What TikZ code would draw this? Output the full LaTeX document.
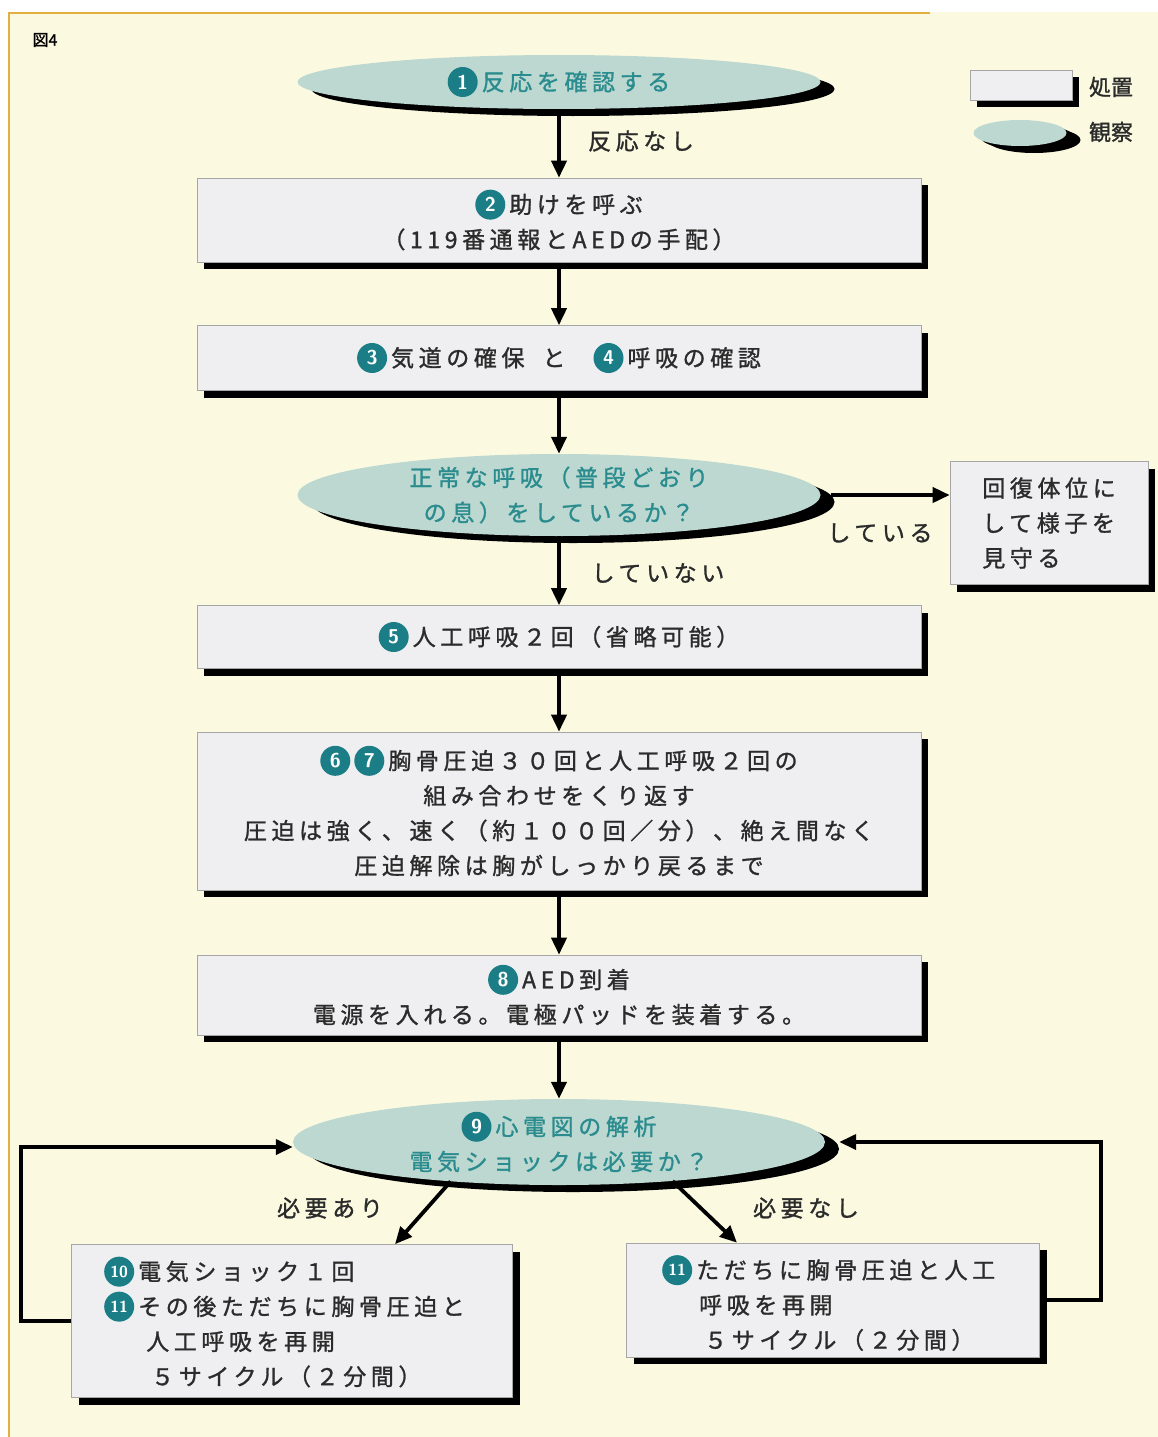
\documentclass[tikz,border=0pt]{standalone}
\usepackage{fontspec}
\usetikzlibrary{shapes.geometric,shadows,arrows.meta}
\newfontfamily\jp[LetterSpace=20,FakeBold=1.2]{Noto Sans CJK JP}
\newfontfamily\jpn[FakeBold=1.2]{Noto Sans CJK JP}
\definecolor{panel}{HTML}{FBFAE0}
\definecolor{frameor}{HTML}{E3B040}
\definecolor{ellfill}{HTML}{BDD8D0}
\definecolor{tealtext}{HTML}{2A8C8E}
\definecolor{numteal}{HTML}{1B7E86}
\definecolor{boxfill}{HTML}{EFEFF1}
\definecolor{txt}{HTML}{2B2B2B}
\newcommand\cnum[2][20]{\tikz[baseline=-8.5pt,x=1pt,y=1pt]\node[circle,fill=numteal,text=white,inner sep=0pt,minimum size=30pt,font=\sffamily\bfseries\fontsize{#1}{#1}\selectfont]{#2};\hspace{4pt}}
\tikzset{
  box/.style={draw=gray!70,line width=0.6pt,fill=boxfill,
    drop shadow={shadow xshift=7pt,shadow yshift=-7pt,fill=black,opacity=1},
    inner sep=0pt,text=txt,font=\fontsize{23}{35}\selectfont\jp,align=center},
  obs/.style={ellipse,fill=ellfill,
    drop shadow={shadow xshift=14pt,shadow yshift=-7pt,fill=black,opacity=1},
    inner sep=0pt,text=tealtext,font=\fontsize{23}{35}\selectfont\jp,align=center},
  flow/.style={line width=3.8pt,-{Triangle[length=17pt,width=15pt]}},
  lbl/.style={text=txt,font=\fontsize{23}{26}\selectfont\jp},
  btxt/.style={text=txt,font=\fontsize{23}{35}\selectfont\jp,align=left,inner sep=0pt}
}
\begin{document}
\begin{tikzpicture}[x=1pt,y=-1pt]
\useasboundingbox (0,0) rectangle (1158,1437);
\fill[white] (0,0) rectangle (1158,1437);
\fill[panel] (8,12) rectangle (1158,1437);
\draw[frameor,line width=2pt] (9,1437) -- (9,13) -- (930,13);
\node[text=black,font=\fontsize{16}{16}\selectfont\jpn] (fig) at (45,40) {図4};

% legend
\node[box,minimum width=102pt,minimum height=30pt] (lg1) at (1021,85) {};
\node[text=txt,font=\fontsize{22}{22}\selectfont\jpn] (lg1t) at (1111,87) {処置};
\node[obs,minimum width=93pt,minimum height=26pt,drop shadow={shadow xshift=7pt,shadow yshift=-4pt,fill=black,opacity=1}] (lg2) at (1020,133) {};
\node[text=txt,font=\fontsize{22}{22}\selectfont\jpn] (lg2t) at (1111,132) {観察};

% main nodes
\node[obs,minimum width=523pt,minimum height=54pt] (e1) at (559,82) {\cnum{1}反応を確認する};
\node[box,minimum width=724pt,minimum height=84pt] (b2) at (559,220) {\cnum{2}助けを呼ぶ\\（119番通報とAEDの手配）};
\node[box,minimum width=724pt,minimum height=65pt] (b3) at (559,358) {\cnum{3}気道の確保\hspace{18pt}と\hspace{28pt}\cnum{4}呼吸の確認};
\node[obs,minimum width=523pt,minimum height=82pt] (e4) at (559,495) {正常な呼吸（普段どおり\\の息）をしているか？};
\node[box,minimum width=198pt,minimum height=123pt,align=left] (rb) at (1049,523) {回復体位に\\して様子を\\見守る};
\node[box,minimum width=724pt,minimum height=63pt] (b5) at (559,637) {\cnum{5}人工呼吸２回（省略可能）};
\node[box,minimum width=724pt,minimum height=158pt] (b6) at (559,811) {\cnum{6}\cnum{7}胸骨圧迫３０回と人工呼吸２回の\\組み合わせをくり返す\\圧迫は強く、速く（約１００回／分）、絶え間なく\\圧迫解除は胸がしっかり戻るまで};
\node[box,minimum width=724pt,minimum height=80pt] (b8) at (559,995) {\cnum{8}AED到着\\電源を入れる。電極パッドを装着する。};
\node[obs,minimum width=532pt,minimum height=86pt] (e9) at (559,1142) {\cnum{9}心電図の解析\\電気ショックは必要か？};
\node[box,minimum width=441pt,minimum height=153pt] (b10) at (292,1321) {};
\node[btxt,anchor=west] (t10) at (104,1322) {\cnum[16]{10}電気ショック１回\\\cnum[16]{11}その後ただちに胸骨圧迫と\\\hspace*{42pt}人工呼吸を再開\\\hspace*{47pt}５サイクル（２分間）};
\node[box,minimum width=413pt,minimum height=114pt] (b11) at (833,1300) {};
\node[btxt,anchor=west] (t11) at (662,1303) {\cnum[16]{11}ただちに胸骨圧迫と人工\\\hspace*{37pt}呼吸を再開\\\hspace*{42pt}５サイクル（２分間）};

% connectors
\draw[flow] (e1.south) -- (b2.north);
\draw[flow] (b2.south) ++(0,7) -- (b3.north);
\draw[flow] (b3.south) ++(0,7) -- (e4.north);
\draw[flow] (e4.south) -- (b5.north);
\draw[flow] ([xshift=10pt]e4.east) -- (e4.east -| rb.west);
\draw[flow] (b5.south) ++(0,7) -- (b6.north);
\draw[flow] (b6.south) ++(0,7) -- (b8.north);
\draw[flow] (b8.south) ++(0,7) -- (e9.north);
\draw[flow] (e9.200) -- ([xshift=103pt]b10.north);
\draw[flow] (e9.341) -- ([xshift=-96pt]b11.north);
\draw[flow] (b10.west) -- ++(-50,0) |- ([yshift=-5pt]e9.west);
\draw[flow] ([xshift=7pt]b11.east) -- ++(54,0) |- ([xshift=14pt]e9.east);

% labels
\node[lbl] (l1) at (641,141) {反応なし};
\node[lbl] (l2) at (880,533) {している};
\node[lbl] (l3) at (658,573) {していない};
\node[lbl] (l4) at (330,1208) {必要あり};
\node[lbl] (l5) at (806,1208) {必要なし};
\end{tikzpicture}
\end{document}
